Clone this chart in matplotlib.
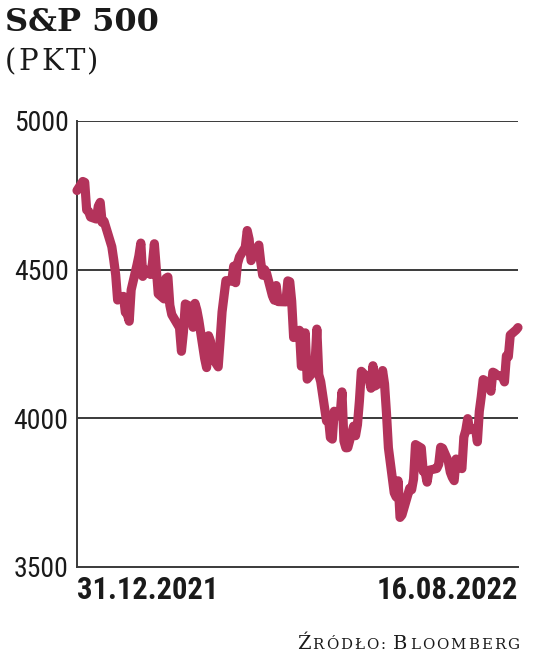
import matplotlib
matplotlib.use("Agg")
import matplotlib.pyplot as plt
from matplotlib import font_manager as fm
import pandas as pd

# ---- data -------------------------------------------------------------
start_date = "2021-12-31"
end_date = "2022-08-16"
holidays = ["2022-01-17", "2022-02-21", "2022-04-15", "2022-05-30",
            "2022-06-20", "2022-07-04"]
sp500 = [
    4766.18,
    4796.56, 4793.54, 4700.58, 4696.05, 4677.03, 4670.29, 4713.07, 4726.35,
    4659.03, 4662.85, 4577.11, 4532.76, 4482.73, 4397.94, 4410.13, 4356.45,
    4349.93, 4326.51, 4431.85, 4515.55,
    4546.54, 4589.38, 4477.44, 4500.53, 4483.87, 4521.54, 4587.18, 4504.08,
    4418.64, 4401.67, 4471.07, 4475.01, 4380.26, 4348.87, 4304.76, 4225.50,
    4288.70, 4384.65, 4373.94,
    4306.26, 4386.54, 4363.49, 4328.87, 4201.09, 4170.70, 4277.88, 4259.52,
    4204.31, 4173.11, 4262.45, 4357.86, 4411.67, 4463.12, 4461.18, 4511.61,
    4456.24, 4520.16, 4543.06, 4575.52, 4631.60, 4602.45, 4530.41,
    4545.86, 4582.64, 4525.12, 4481.15, 4500.21, 4488.28, 4412.53, 4397.45,
    4446.59, 4392.59, 4391.69, 4462.21, 4459.45, 4393.66, 4271.78, 4296.12,
    4175.20, 4183.96, 4287.50, 4131.93,
    4155.38, 4175.48, 4300.17, 4146.87, 4123.34, 3991.24, 4001.05, 3935.18,
    3930.08, 4023.89, 4008.01, 4088.85, 3923.68, 3900.79, 3901.36, 3973.75,
    3941.48, 3978.73, 4057.84, 4158.24, 4132.15,
    4101.23, 4176.82, 4108.54, 4121.43, 4160.68, 4115.77, 4017.82, 3900.86,
    3749.63, 3735.48, 3789.99, 3666.77, 3674.84, 3764.79, 3759.89, 3795.73,
    3911.74, 3900.11, 3821.55, 3818.83, 3785.38,
    3825.33, 3831.39, 3845.08, 3902.62, 3899.38, 3854.43, 3818.80, 3801.78,
    3790.38, 3863.16, 3830.85, 3936.69, 3959.90, 3998.95, 3961.63, 3966.84,
    3921.05, 4023.61, 4072.43, 4130.29,
    4118.63, 4091.19, 4155.17, 4151.94, 4145.19, 4140.06, 4122.47, 4210.24,
    4207.27, 4280.15, 4297.14, 4305.20,
]
y_ticks = [3500, 4000, 4500, 5000]
x_tick_labels = ["31.12.2021", "16.08.2022"]
title = "S&P 500"
unit = "(PKT)"
source_parts = [("Ź", True), ("RÓDŁO: ", False), ("B", True), ("LOOMBERG", False)]

dates = pd.bdate_range(start_date, end_date)
dates = dates[~dates.isin(pd.to_datetime(holidays))]
assert len(dates) == len(sp500)

# ---- fonts ------------------------------------------------------------
installed = {f.name for f in fm.fontManager.ttflist}
narrow_fp = None
for fam in ["Liberation Sans Narrow", "Roboto Condensed", "Open Sans Condensed",
            "DejaVu Sans Condensed", "Noto Sans Condensed"]:
    if fam in installed:
        narrow_fp = dict(family=[fam, "DejaVu Sans"], stretch="normal")
        break
if narrow_fp is None:
    cond = [f for f in fm.fontManager.ttflist
            if f.name == "DejaVu Sans" and "Condensed" in f.fname]
    if cond:
        narrow_fp = dict(family=["DejaVu Sans"], stretch="condensed")
if narrow_fp is None:
    narrow_fp = dict(family=["Roboto", "DejaVu Sans"], stretch="normal")
    tick_size, xlab_size = 17, 19
else:
    tick_size, xlab_size = 20, 22

# ---- style ------------------------------------------------------------
W, H, DPI = 536, 658, 100
line_color = "#b3335b"
grid_color = "#3a3a3a"
text_color = "#1a1a1a"

fig = plt.figure(figsize=(W / DPI, H / DPI), dpi=DPI)
fig.patch.set_facecolor("white")
left_px, right_px, top_px, bottom_px = 77, 518, 121, 567
ax = fig.add_axes([left_px / W, 1 - bottom_px / H,
                   (right_px - left_px) / W, (bottom_px - top_px) / H])

ax.plot(dates, sp500, color=line_color, lw=6.6, solid_capstyle="round",
        solid_joinstyle="round", clip_on=False, zorder=3)

ax.set_ylim(3500, 5000)
ax.set_xlim(dates[0], dates[-1])
ax.set_yticks(y_ticks)
ax.set_yticklabels([str(v) for v in y_ticks], fontsize=tick_size,
                   color=text_color, **narrow_fp)
ax.tick_params(axis="y", length=0, pad=6)
ax.set_xticks([dates[0], dates[-1]])
ax.set_xticklabels(x_tick_labels, fontsize=xlab_size, fontweight="bold",
                   color=text_color, **narrow_fp)
ax.tick_params(axis="x", length=0, pad=6)
xl = ax.get_xticklabels()
xl[0].set_horizontalalignment("left")
xl[1].set_horizontalalignment("right")

for v in y_ticks[1:]:
    ax.axhline(v, color=grid_color, lw=1.4, zorder=1)
for s in ["top", "right"]:
    ax.spines[s].set_visible(False)
for s in ["left", "bottom"]:
    ax.spines[s].set_color(grid_color)
    ax.spines[s].set_linewidth(1.4)

# ---- titles -----------------------------------------------------------
fig.canvas.draw()
renderer = fig.canvas.get_renderer()


def tracked(x_px, y_px, parts, tracking, **kw):
    """Draw text character by character with extra letter spacing."""
    for txt, size in parts:
        for ch in txt:
            t = fig.text(x_px / W, 1 - y_px / H, ch, fontsize=size,
                         va="baseline", ha="left", color=text_color, **kw)
            w = t.get_window_extent(renderer).width
            if ch == " ":
                w = size * 0.35
            x_px += w + tracking
    return x_px


fig.text(5 / W, 1 - 31 / H, title, family=["DejaVu Serif"], fontweight="bold",
         fontsize=23, color=text_color, va="baseline", ha="left")
tracked(5, 70, [(unit, 21)], 2.5, family=["DejaVu Serif"], fontweight="light")

# ---- source in small caps --------------------------------------------
src = [(t, 14 if big else 10.8) for t, big in source_parts]
tracked(297, 649, src, 2.0, family=["DejaVu Serif"])

fig.savefig("out.png", dpi=DPI, facecolor="white")
